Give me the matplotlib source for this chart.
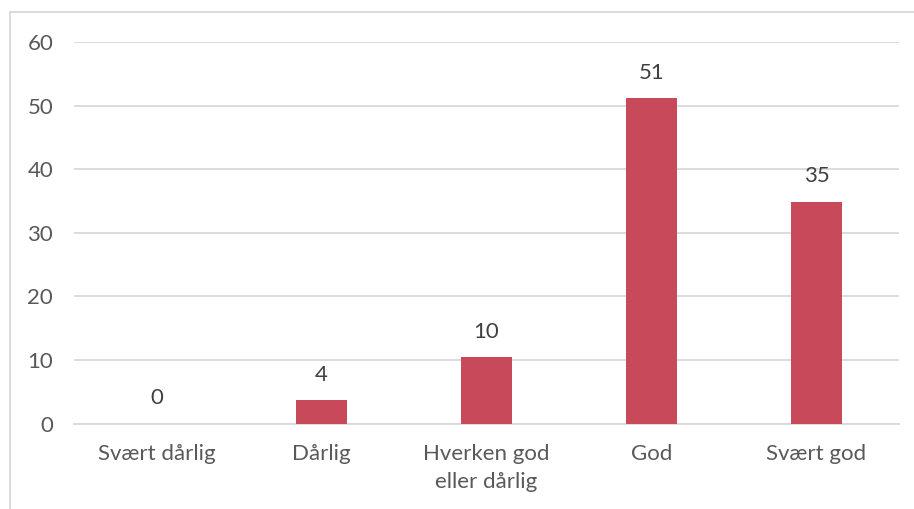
import matplotlib.pyplot as plt
import matplotlib.patches as mpatches

categories = ["Svært dårlig", "Dårlig", "Hverken god\neller dårlig", "God", "Svært god"]
values = [0.0, 3.65, 10.4, 51.2, 34.9]
value_labels = ["0", "4", "10", "51", "35"]
y_ticks = [0, 10, 20, 30, 40, 50, 60]

bar_color = "#C84A5A"
text_color = "#595959"
grid_color = "#D9D9D9"

plt.rcParams['font.family'] = ['Lato', 'DejaVu Sans']

W, H = 914, 509
fig = plt.figure(figsize=(W / 100, H / 100), dpi=100)

# ramme rundt diagrammet (kun venstre og topp synlig)
frame = mpatches.Rectangle((10 / W, -0.1), 1.2, 1.1 - 12 / H,
                           transform=fig.transFigure, fill=False,
                           edgecolor=grid_color, linewidth=1.3)
fig.patches.append(frame)

ax = fig.add_axes([74 / W, 1 - 423.5 / H, (899 - 74) / W, (423.5 - 42) / H])
x = range(len(categories))
ax.bar(x, values, width=0.315, color=bar_color, zorder=3)

ax.set_xlim(-0.5, len(categories) - 0.5)
ax.set_ylim(0, 60)
ax.set_yticks(y_ticks)
ax.set_xticks(list(x))
ax.set_xticklabels(categories, linespacing=1.5)
ax.yaxis.grid(True, color=grid_color, linewidth=1.3, zorder=0)
ax.set_axisbelow(True)
for s in ["top", "right", "left"]:
    ax.spines[s].set_visible(False)
ax.spines["bottom"].set_color(grid_color)
ax.spines["bottom"].set_linewidth(1.3)
ax.tick_params(axis="both", length=0, labelsize=16, colors=text_color)
ax.tick_params(axis="y", pad=15)
ax.tick_params(axis="x", pad=15)
for lbl in ax.get_xticklabels() + ax.get_yticklabels():
    lbl.set_color(text_color)

for xi, v, t in zip(x, values, value_labels):
    ax.annotate(t, (xi, v), xytext=(0, 11), textcoords="offset points",
                ha="center", va="bottom", fontsize=16, color="#404040")

fig.savefig("out.png", dpi=100)
